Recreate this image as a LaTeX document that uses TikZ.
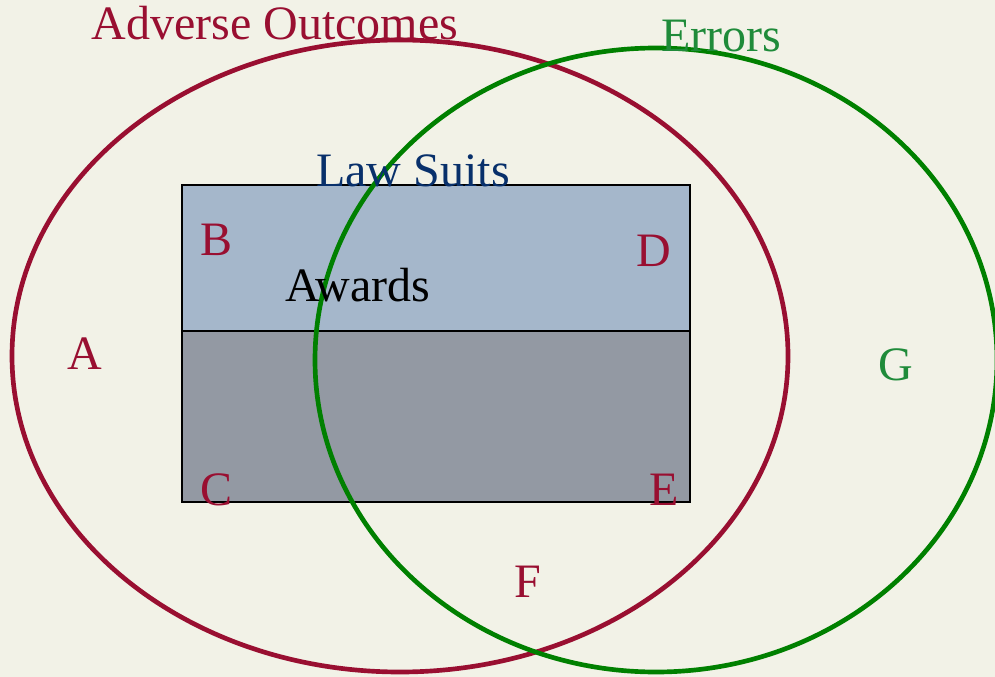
\documentclass[tikz,border=0pt]{standalone}
\usepackage{fontspec}
\setmainfont{Liberation Serif}
\usepackage{tikz}
\definecolor{paper}{HTML}{F2F2E7}
\definecolor{adverse}{HTML}{990F31}
\definecolor{errline}{HTML}{008000}
\definecolor{errtext}{HTML}{1F8B3A}
\definecolor{suits}{HTML}{08306B}
\definecolor{suitfill}{HTML}{A5B7CB}
\definecolor{awardfill}{HTML}{9399A3}
\tikzset{set/.style={line width=3.5pt},
  box/.style={draw=black,line width=0.9pt},
  lbl/.style={anchor=base,inner sep=0pt,font=\fontsize{36}{40}\selectfont}}
\begin{document}
\begin{tikzpicture}[x=0.75pt,y=-0.75pt]
  \fill[paper] (0,0) rectangle (995,677);
  \useasboundingbox (0,0) rectangle (995,677);
  % law suits and awards
  \draw[box,fill=suitfill] (182,185) rectangle (690,331);
  \draw[box,fill=awardfill] (182,331) rectangle (690,502);
  % the two sets
  \draw[set,draw=adverse] (400,356) ellipse [x radius=388,y radius=316];
  \draw[set,draw=errline] (656,360) ellipse [x radius=341,y radius=312];
  \node[lbl,text=adverse] (adv) at (275,40) {Adverse Outcomes};
  \node[lbl,text=errtext] (err) at (721,52) {Errors};
  \node[lbl,text=suits] (law) at (413,187) {Law Suits};
  \node[lbl] (awd) at (358,301) {Awards};
  \node[lbl,text=adverse] (regA) at (85,369) {A};
  \node[lbl,text=adverse] (regB) at (217,256) {B};
  \node[lbl,text=adverse] (regC) at (217,505) {C};
  \node[lbl,text=adverse] (regD) at (654,267) {D};
  \node[lbl,text=adverse] (regE) at (664,505) {E};
  \node[lbl,text=adverse] (regF) at (528,597) {F};
  \node[lbl,text=errtext] (regG) at (896,380) {G};
\end{tikzpicture}
\end{document}
